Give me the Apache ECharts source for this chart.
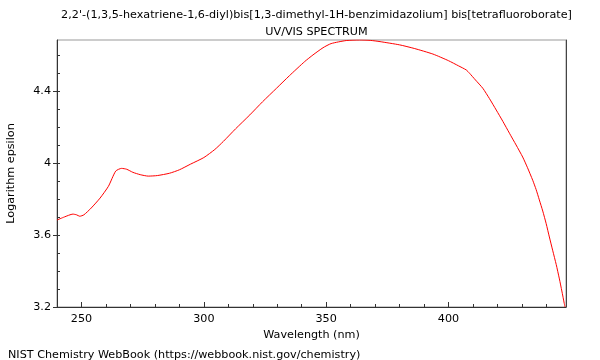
<!DOCTYPE html>
<html>
<head>
<meta charset="utf-8">
<script src="https://cdn.jsdelivr.net/npm/echarts@6/dist/echarts.min.js"></script>
<style>html,body{margin:0;padding:0;background:#fff}#c{width:600px;height:360px}</style>
</head>
<body>
<div id="c"></div>
<script>
const wavelength = [240,243,246.5,248,249.3,251,254,257.6,261,264,266.4,268.5,271,274,277.3,281,286,290,294.5,300,304.5,308,313,318.8,324,329.7,335,341.2,344.6,348.7,352,358.2,363.7,368,372,380,386,393.6,400,404,407.2,408.6,411,414,416.7,419.5,422.2,424.9,427.6,430.3,432.2,434.4,435.8,437.1,438.5,439.9,441.2,442.6,444,445.3,446.3,447.3,447.6];
const logEpsilon = [3.683,3.700,3.716,3.712,3.704,3.712,3.750,3.805,3.870,3.955,3.970,3.965,3.948,3.935,3.927,3.930,3.943,3.962,3.993,4.030,4.075,4.120,4.190,4.267,4.340,4.415,4.485,4.563,4.600,4.640,4.663,4.680,4.683,4.681,4.674,4.656,4.636,4.605,4.568,4.540,4.517,4.498,4.461,4.415,4.358,4.294,4.231,4.165,4.100,4.033,3.976,3.904,3.852,3.795,3.733,3.663,3.589,3.512,3.436,3.356,3.289,3.219,3.200];
const xMajorTicks = [250,300,350,400];
const xMinorTicks = [260,270,280,290,310,320,330,340,360,370,380,390,410,420,430,440];
const yMajorTicks = [3.2,3.6,4,4.4];
const yMinorTicks = [3.3,3.4,3.5,3.7,3.8,3.9,4.1,4.2,4.3,4.5,4.6];
const titleLine1 = "2,2'-(1,3,5-hexatriene-1,6-diyl)bis[1,3-dimethyl-1H-benzimidazolium] bis[tetrafluoroborate]";
const titleLine2 = "UV/VIS SPECTRUM";
const xName = "Wavelength (nm)";
const yName = "Logarithm epsilon";
const footer = "NIST Chemistry WebBook (https://webbook.nist.gov/chemistry)";

const FONT = "DejaVu Sans";
const chart = echarts.init(document.getElementById('c'), null, {renderer:'canvas'});
const xMin = 240, xMax = 448, yMin = 3.2, yMax = 4.683;
const txt = {fontFamily: FONT, fontSize: 11.2, color: '#000'};
chart.setOption({
  animation: false,
  backgroundColor: '#fff',
  grid: {left: 57, right: 34, top: 40, bottom: 53, show: true, borderColor: '#999', borderWidth: 1,
         containLabel: false, outerBoundsMode: 'none'},
  title: [
    {text: titleLine1, left: 311.5, top: 5, textAlign: 'center', textStyle: Object.assign({fontWeight: 'normal'}, txt)},
    {text: titleLine2, left: 311.5, top: 22, textAlign: 'center', textStyle: Object.assign({fontWeight: 'normal'}, txt)},
    {text: footer, left: 3, top: 345, textStyle: Object.assign({fontWeight: 'normal'}, txt)}
  ],
  xAxis: [
    {type: 'value', min: xMin, max: xMax, position: 'bottom',
     name: xName, nameLocation: 'middle', nameGap: 20, nameTextStyle: txt,
     axisLine: {show: true, lineStyle: {color: '#333'}},
     axisTick: {show: true, inside: true, length: 5, customValues: xMajorTicks, lineStyle: {color: '#333'}},
     axisLabel: {show: true, customValues: xMajorTicks, margin: 7, ...txt},
     splitLine: {show: false}},
    {type: 'value', min: xMin, max: xMax, position: 'bottom',
     axisLine: {show: false},
     axisTick: {show: true, inside: true, length: 3, customValues: xMinorTicks, lineStyle: {color: '#333'}},
     axisLabel: {show: false}, splitLine: {show: false}}
  ],
  yAxis: [
    {type: 'value', min: yMin, max: yMax, position: 'left',
     name: yName, nameLocation: 'middle', nameGap: 40, nameTextStyle: txt,
     axisLine: {show: true, lineStyle: {color: '#333'}},
     axisTick: {show: true, inside: false, length: 4, customValues: yMajorTicks, lineStyle: {color: '#333'}},
     axisLabel: {show: true, customValues: yMajorTicks, margin: 6, ...txt},
     splitLine: {show: false}},
    {type: 'value', min: yMin, max: yMax, position: 'left',
     axisLine: {show: false},
     axisTick: {show: true, inside: true, length: 3, customValues: yMinorTicks.concat(yMajorTicks), lineStyle: {color: '#333'}},
     axisLabel: {show: false}, splitLine: {show: false}},
    {type: 'value', min: yMin, max: yMax, position: 'right',
     axisLine: {show: true, lineStyle: {color: '#444'}},
     axisTick: {show: false}, axisLabel: {show: false}, splitLine: {show: false}}
  ],
  series: [{
    type: 'line', xAxisIndex: 0, yAxisIndex: 0,
    data: wavelength.map((w, i) => [w, logEpsilon[i]]),
    showSymbol: false, symbol: 'none', smooth: 0.2,
    lineStyle: {color: '#ff0000', width: 1}, clip: true
  }]
});
</script>
</body>
</html>
